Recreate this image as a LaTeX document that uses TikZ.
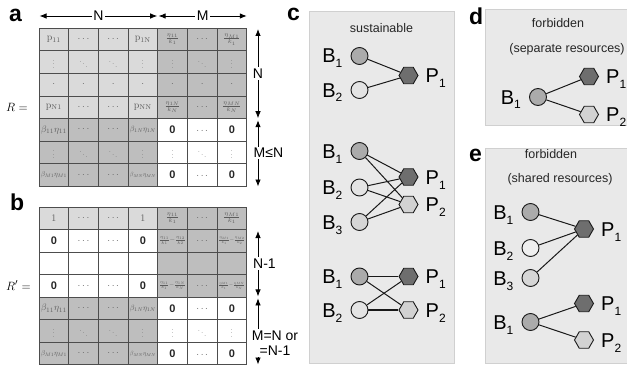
\documentclass[tikz,border=0pt]{standalone}
\usepackage{graphicx}
\usepackage{fontspec}
\newfontfamily\hv{Liberation Sans}
\usetikzlibrary{arrows.meta,shapes.geometric,calc}

\definecolor{cellL}{HTML}{DADADA}
\definecolor{cellD}{HTML}{BEBEBE}
\definecolor{gridc}{HTML}{4D4D4D}
\definecolor{celltxt}{HTML}{5C5C5C}
\definecolor{dotc}{HTML}{666666}
\definecolor{panelbg}{HTML}{E9E9E9}
\definecolor{panelbd}{HTML}{D0D0D0}
\definecolor{bmid}{HTML}{ABABAB}
\definecolor{blight}{HTML}{E3E3E3}
\definecolor{blighter}{HTML}{EFEFEF}
\definecolor{blightb}{HTML}{D6D6D6}
\definecolor{pdark}{HTML}{6E6E6E}
\definecolor{plight}{HTML}{D2D2D2}

% cell contents
\newcommand\mhdots{\textcolor{dotc}{$\cdots$}}
\newcommand\mldots{\raisebox{-3pt}{\textcolor{dotc}{$\ldots$}}}
\newcommand\mvdots{\scalebox{0.8}{\textcolor{dotc}{$\vdots$}}}
\newcommand\mddots{\scalebox{0.8}{\textcolor{dotc}{$\ddots$}}}
\newcommand\mpdot{\textcolor{dotc}{$\cdot$}}
\newcommand\mzero{{\hv\bfseries\fontsize{11}{11}\selectfont\textcolor{black!85}{0}}}
\newcommand\mfrac[2]{{\fontsize{9}{9}\selectfont$\frac{#1}{#2}$}}
\newcommand\mfracd[4]{\resizebox{26.5pt}{!}{\fontsize{9}{9}\selectfont$\frac{#1}{#2}{-}\frac{#3}{#4}$}}
\newcommand\mbeta[2]{\resizebox{26pt}{!}{\fontsize{10}{10}\selectfont$\beta_{#1}\eta_{#2}$}}
\newcommand\sbs[1]{\raisebox{-5pt}{\fontsize{12}{12}\selectfont #1}}

% one matrix row: prefix, top edge, row index, list of column/fill/text
\newcommand\mrow[4]{%
  \foreach \ccol/\cfill/\ctext in {#4}{%
    \node[mcell,fill=\cfill] (#1-#3-\ccol) at ({39+29.667*(\ccol-0.5)},{#2+22.55*(#3-0.5)}) {\ctext};}}

% bacterium and product labels
\newcommand\blabel[3]{\node[blab,anchor=base east] (#1) at ($(#2.west)+(-8,7)$) {B\sbs{#3}};}
\newcommand\plabel[3]{\node[blab,anchor=base west] (#1) at ($(#2.east)+(7,7)$) {P\sbs{#3}};}

\begin{document}
\begin{tikzpicture}[x=1pt,y=-1pt,
  mcell/.style={draw=gridc,line width=0.8pt,minimum width=29.67pt,minimum height=22.55pt,inner sep=0pt,text=celltxt,font=\fontsize{10}{10}\selectfont},
  dimarr/.style={line width=0.8pt,{Latex[length=7pt,width=5.5pt]}-{Latex[length=7pt,width=5.5pt]}},
  dimlab/.style={fill=white,inner sep=1.5pt,font=\hv\fontsize{14}{15}\selectfont},
  plet/.style={inner sep=0pt,font=\hv\bfseries\fontsize{23}{23}\selectfont},
  panel/.style={draw=panelbd,fill=panelbg,line width=1pt,inner sep=0pt},
  ptitle/.style={inner sep=0pt,font=\hv\fontsize{12.5}{13}\selectfont,text=black!85},
  bnode/.style={circle,draw=black!90,line width=0.9pt,minimum size=17pt,inner sep=0pt},
  pnode/.style={regular polygon,regular polygon sides=6,draw=black!90,line width=0.9pt,minimum size=19pt,inner sep=0pt},
  blab/.style={inner sep=0pt,font=\hv\fontsize{20}{20}\selectfont},
  conn/.style={line width=1pt,black!90},
  connbold/.style={line width=1.8pt,black!90}]
\useasboundingbox (0,0) rectangle (627,369);

% ---------- panel letters ----------
\node[plet,anchor=base west] (la) at (9,22) {a};
\node[plet,anchor=base west] (lb) at (10,210) {b};
\node[plet,anchor=base west] (lc) at (287,21) {c};
\node[plet,anchor=base west] (ld) at (469,25) {d};
\node[plet,anchor=base west] (le) at (469,161) {e};

% ---------- matrix R ----------
\node[anchor=base west,inner sep=0pt,font=\fontsize{13}{13}\selectfont] (Rlab) at (6,112) {$R =$};
\mrow{a}{28.3}{1}{1/cellL/{$\mathrm{p}_{11}$},2/cellL/\mhdots,3/cellL/\mhdots,4/cellL/{$\mathrm{p}_{1\mathrm{N}}$},5/cellD/{\mfrac{\eta_{11}}{k_1}},6/cellD/\mhdots,7/cellD/{\mfrac{\eta_{M1}}{k_1}}}
\mrow{a}{28.3}{2}{1/cellL/\mvdots,2/cellL/\mddots,3/cellL/\mddots,4/cellL/\mvdots,5/cellD/\mvdots,6/cellD/\mddots,7/cellD/\mvdots}
\mrow{a}{28.3}{3}{1/cellL/\mpdot,2/cellL/\mpdot,3/cellL/\mpdot,4/cellL/\mpdot,5/cellD/\mpdot,6/cellD/\mpdot,7/cellD/\mpdot}
\mrow{a}{28.3}{4}{1/cellL/{$\mathrm{p}_{\mathrm{N}1}$},2/cellL/\mhdots,3/cellL/\mhdots,4/cellL/{$\mathrm{p}_{\mathrm{NN}}$},5/cellD/{\mfrac{\eta_{1N}}{k_N}},6/cellD/\mhdots,7/cellD/{\mfrac{\eta_{MN}}{k_N}}}
\mrow{a}{28.3}{5}{1/cellD/{\mbeta{11}{11}},2/cellD/\mhdots,3/cellD/\mhdots,4/cellD/{\mbeta{1N}{1N}},5/white/\mzero,6/white/\mldots,7/white/\mzero}
\mrow{a}{28.3}{6}{1/cellD/\mvdots,2/cellD/\mddots,3/cellD/\mddots,4/cellD/\mvdots,5/white/\mvdots,6/white/\mddots,7/white/\mvdots}
\mrow{a}{28.3}{7}{1/cellD/{\mbeta{M1}{M1}},2/cellD/\mhdots,3/cellD/\mhdots,4/cellD/{\mbeta{MN}{MN}},5/white/\mzero,6/white/\mldots,7/white/\mzero}

% dimension arrows of R
\coordinate (hN1) at (39.5,16);  \coordinate (hN2) at (157.2,16);
\coordinate (hM1) at (158.6,16); \coordinate (hM2) at (246.8,16);
\draw[dimarr] (hN1) -- node[dimlab] (labN) {N} (hN2);
\draw[dimarr] (hM1) -- node[dimlab] (labM) {M} (hM2);
\coordinate (vA1) at (258,29);  \coordinate (vA2) at (258,118.2);
\coordinate (vA3) at (258,120.2); \coordinate (vA4) at (258,186.5);
\draw[dimarr] (vA1) -- node[dimlab] (labVN) {N} (vA2);
\draw[dimarr] (vA3) -- (vA4);
\node[dimlab,anchor=west] (labMN) at (252,153) {M≤N};

% ---------- matrix R' ----------
\node[anchor=base west,inner sep=0pt,font=\fontsize{13}{13}\selectfont] (Rplab) at (6,290) {$R' =$};
\mrow{b}{207}{1}{1/cellL/{$1$},2/cellL/\mhdots,3/cellL/\mhdots,4/cellL/{$1$},5/cellD/{\mfrac{\eta_{11}}{k_1}},6/cellD/\mhdots,7/cellD/{\mfrac{\eta_{M1}}{k_1}}}
\mrow{b}{207}{2}{1/white/\mzero,2/white/\mhdots,3/white/\mhdots,4/white/\mzero,5/cellD/{\mfracd{\eta_{11}}{k_1}{\eta_{12}}{k_2}},6/cellD/\mhdots,7/cellD/{\mfracd{\eta_{M1}}{k_1}{\eta_{M2}}{k_2}}}
\mrow{b}{207}{3}{1/white/{},2/white/{},3/white/{},4/white/{},5/cellD/{},6/cellD/{},7/cellD/{}}
\mrow{b}{207}{4}{1/white/\mzero,2/white/\mhdots,3/white/\mhdots,4/white/\mzero,5/cellD/{\mfracd{\eta_{11}}{k_1}{\eta_{1N}}{k_N}},6/cellD/\mhdots,7/cellD/{\mfracd{\eta_{M1}}{k_1}{\eta_{MN}}{k_N}}}
\mrow{b}{207}{5}{1/cellD/{\mbeta{11}{11}},2/cellD/\mhdots,3/cellD/\mhdots,4/cellD/{\mbeta{1N}{1N}},5/white/\mzero,6/white/\mldots,7/white/\mzero}
\mrow{b}{207}{6}{1/cellD/\mvdots,2/cellD/\mddots,3/cellD/\mddots,4/cellD/\mvdots,5/white/\mvdots,6/white/\mddots,7/white/\mvdots}
\mrow{b}{207}{7}{1/cellD/{\mbeta{M1}{M1}},2/cellD/\mhdots,3/cellD/\mhdots,4/cellD/{\mbeta{MN}{MN}},5/white/\mzero,6/white/\mldots,7/white/\mzero}

% dimension arrows of R'
\coordinate (vB1) at (258,231);   \coordinate (vB2) at (258,296.4);
\coordinate (vB3) at (258,298.4); \coordinate (vB4) at (258,364.5);
\draw[dimarr] (vB1) -- (vB2);
\draw[dimarr] (vB3) -- (vB4);
\node[dimlab,anchor=west] (labN1) at (251.5,263.4) {N-1};
\node[dimlab,align=center,font=\hv\fontsize{14}{15.5}\selectfont] (labMN1) at (275,343) {M=N or\\=N-1};

% ---------- panel c ----------
\node[panel,minimum width=145pt,minimum height=351pt] (boxc) at (381.5,187.5) {};
\node[ptitle,anchor=base] (tc) at (381.5,33) {sustainable};
% pair sharing one product
\node[bnode,fill=bmid]   (c1b1) at (359.5,56) {};
\node[bnode,fill=blight] (c1b2) at (359.5,90) {};
\node[pnode,fill=pdark]  (c1p1) at (408.5,75.5) {};
\blabel{c1l1}{c1b1}{1}\blabel{c1l2}{c1b2}{2}\plabel{c1m1}{c1p1}{1}
\draw[conn] (c1b1) -- (c1p1);
\draw[conn] (c1b2) -- (c1p1);
% three bacteria, two products
\node[bnode,fill=bmid]    (c2b1) at (359.5,151) {};
\node[bnode,fill=blight]  (c2b2) at (359.5,187.5) {};
\node[bnode,fill=blightb] (c2b3) at (359.5,222) {};
\node[pnode,fill=pdark]   (c2p1) at (408.5,177) {};
\node[pnode,fill=plight]  (c2p2) at (408.5,204.5) {};
\blabel{c2l1}{c2b1}{1}\blabel{c2l2}{c2b2}{2}\blabel{c2l3}{c2b3}{3}
\plabel{c2m1}{c2p1}{1}\plabel{c2m2}{c2p2}{2}
\foreach \bb in {c2b1,c2b2,c2b3}{\draw[conn] (\bb) -- (c2p1); \draw[conn] (\bb) -- (c2p2);}
% two bacteria, two products
\node[bnode,fill=bmid]   (c3b1) at (359.5,276.5) {};
\node[bnode,fill=blight] (c3b2) at (359.5,310) {};
\node[pnode,fill=pdark]  (c3p1) at (408.5,276.5) {};
\node[pnode,fill=plight] (c3p2) at (408.5,310) {};
\blabel{c3l1}{c3b1}{1}\blabel{c3l2}{c3b2}{2}\plabel{c3m1}{c3p1}{1}\plabel{c3m2}{c3p2}{2}
\draw[connbold] (c3b1) -- (c3p1);
\draw[connbold] (c3b2) -- (c3p2);
\draw[conn] (c3b1) -- (c3p2);
\draw[conn] (c3b2) -- (c3p1);

% ---------- panel d ----------
\node[panel,minimum width=142pt,minimum height=115pt] (boxd) at (556,67.5) {};
\node[ptitle,anchor=base] (td1) at (558,28) {forbidden};
\node[ptitle,anchor=base] (td2) at (567,53) {(separate resources)};
\node[bnode,fill=bmid]   (db1) at (538,97) {};
\node[pnode,fill=pdark]  (dp1) at (589,76.5) {};
\node[pnode,fill=plight] (dp2) at (589,114.5) {};
\blabel{dl1}{db1}{1}\plabel{dm1}{dp1}{1}\plabel{dm2}{dp2}{2}
\draw[conn] (db1) -- (dp1);
\draw[conn] (db1) -- (dp2);

% ---------- panel e ----------
\node[panel,minimum width=142pt,minimum height=215pt] (boxe) at (556,255.5) {};
\node[ptitle,anchor=base] (te1) at (551,158) {forbidden};
\node[ptitle,anchor=base] (te2) at (560,182) {(shared resources)};
\node[bnode,fill=bmid]      (e1b1) at (530.5,212) {};
\node[bnode,fill=blighter]  (e1b2) at (530.5,248) {};
\node[bnode,fill=blightb]   (e1b3) at (530.5,278) {};
\node[pnode,fill=pdark]     (e1p1) at (584,229) {};
\blabel{e1l1}{e1b1}{1}\blabel{e1l2}{e1b2}{2}\blabel{e1l3}{e1b3}{3}\plabel{e1m1}{e1p1}{1}
\draw[conn] (e1b1) -- (e1p1);
\draw[conn] (e1b2) -- (e1p1);
\draw[conn] (e1b3) -- (e1p1);
\node[bnode,fill=bmid]   (e2b1) at (530.5,322) {};
\node[pnode,fill=pdark]  (e2p1) at (584,303.5) {};
\node[pnode,fill=plight] (e2p2) at (584,340) {};
\blabel{e2l1}{e2b1}{1}\plabel{e2m1}{e2p1}{1}\plabel{e2m2}{e2p2}{2}
\draw[conn] (e2b1) -- (e2p1);
\draw[conn] (e2b1) -- (e2p2);
\end{tikzpicture}
\end{document}
